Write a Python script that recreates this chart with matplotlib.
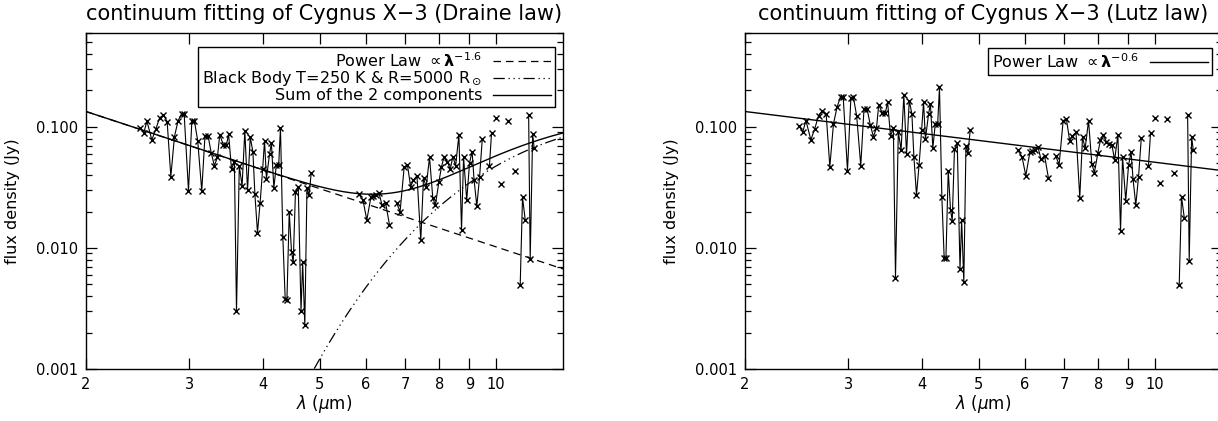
import numpy as np
import matplotlib
matplotlib.use('Agg')
import matplotlib.pyplot as plt
from matplotlib.ticker import FixedLocator, NullLocator, LogLocator, FuncFormatter

nan = np.nan

# wavelength of the spectrum points (micron); nan = break in the connecting line
wavelength = [2.47, 2.51, 2.54, 2.59, 2.63, 2.67, 2.71, 2.75, 2.79, 2.83,
              2.87, 2.91, 2.94, 2.99, 3.03, 3.06, 3.10, 3.15, 3.19, 3.23,
              3.27, 3.31, 3.35, 3.38, 3.43, 3.47, 3.50, 3.54, 3.58, 3.61,
              3.65, 3.69, 3.73, 3.77, 3.81, 3.85, 3.88, 3.92, 3.96, 4.00,
              4.03, 4.06, 4.11, 4.14, 4.18, 4.22, 4.26, 4.29, 4.33, 4.37,
              4.40, 4.44, 4.48, 4.51, 4.55, 4.60, 4.65, 4.68, 4.72, 4.76,
              4.80, 4.84, nan,
              5.83, 5.93, 6.02, 6.12, 6.18, 6.24, 6.31, 6.39, 6.48, 6.58, nan,
              6.77, 6.86, 6.97, 7.06, 7.15, 7.23, 7.33, 7.44, 7.52, 7.60,
              7.70, 7.80, 7.88, 7.99, 8.07, 8.15, 8.26, 8.35, 8.44, 8.53,
              8.64, 8.73, 8.80, 8.91, 9.01, 9.10, 9.17, 9.27, 9.37, 9.47, nan,
              9.74, 9.82, nan, 9.99, nan, 10.20, nan, 10.47, nan, 10.75, nan,
              10.99, 11.09, 11.21, nan,
              11.36, 11.43, 11.54, 11.61]

# dereddened flux density (Jy), Draine extinction law
flux_draine = [0.0988, 0.0898, 0.1114, 0.0781, 0.0956, 0.1187, 0.1256, 0.1107, 0.0389, 0.0832,
               0.1121, 0.1280, 0.1272, 0.0298, 0.1121, 0.1121, 0.0771, 0.0296, 0.0843, 0.0837,
               0.0606, 0.0479, 0.0561, 0.0859, 0.0710, 0.0710, 0.0870, 0.0447, 0.0517, 0.0030,
               0.0476, 0.0325, 0.0927, 0.0301, 0.0821, 0.0625, 0.0280, 0.0134, 0.0234, 0.0447,
               0.0771, 0.0374, 0.0598, 0.0733, 0.0313, 0.0482, 0.0482, 0.0988, 0.0122, 0.0038,
               0.0037, 0.0198, 0.0093, 0.0076, 0.0292, 0.0321, 0.0030, 0.0076, 0.0023, 0.0311,
               0.0274, 0.0419, nan,
               0.0280, 0.0249, 0.0170, 0.0266, 0.0269, 0.0272, 0.0287, 0.0227, 0.0237, 0.0155, nan,
               0.0234, 0.0200, 0.0464, 0.0485, 0.0321, 0.0365, 0.0394, 0.0116, 0.0376, 0.0321,
               0.0561, 0.0257, 0.0227, 0.0353, 0.0470, 0.0561, 0.0517, 0.0447, 0.0569, 0.0476,
               0.0859, 0.0141, 0.0561, 0.0249, 0.0507, 0.0625, 0.0365, 0.0222, 0.0384, 0.0791, nan,
               0.0476, 0.0886, nan, 0.1179, nan, 0.0336, nan, 0.1128, nan, 0.0433, nan,
               0.0049, 0.0262, 0.0170, nan,
               0.1256, 0.0081, 0.0875, 0.0666]

# dereddened flux density (Jy), Lutz extinction law
flux_lutz = [0.1019, 0.0915, 0.1128, 0.0781, 0.0969, 0.1241, 0.1365, 0.1280, 0.0470, 0.1059,
             0.1454, 0.1781, 0.1781, 0.0436, 0.1725, 0.1758, 0.1233, 0.0479, 0.1400, 0.1400,
             0.1039, 0.0832, 0.0975, 0.1520, 0.1297, 0.1314, 0.1599, 0.0843, 0.0975, 0.0057,
             0.0915, 0.0645, 0.1827, 0.0598, 0.1651, 0.1280, 0.0569, 0.0274, 0.0485, 0.0945,
             0.1599, 0.0791, 0.1280, 0.1549, 0.0671, 0.1059, 0.1059, 0.2128, 0.0266, 0.0082,
             0.0082, 0.0436, 0.0206, 0.0168, 0.0654, 0.0733, 0.0067, 0.0170, 0.0052, 0.0697,
             0.0614, 0.0945, nan,
             0.0645, 0.0569, 0.0396, 0.0625, 0.0633, 0.0645, 0.0688, 0.0540, 0.0576, 0.0377, nan,
             0.0576, 0.0485, 0.1128, 0.1157, 0.0771, 0.0843, 0.0903, 0.0261, 0.0821, 0.0666,
             0.1128, 0.0494, 0.0419, 0.0614, 0.0781, 0.0859, 0.0756, 0.0724, 0.0710, 0.0534,
             0.0859, 0.0137, 0.0561, 0.0245, 0.0485, 0.0618, 0.0369, 0.0227, 0.0389, 0.0806, nan,
             0.0476, 0.0886, nan, 0.1195, nan, 0.0342, nan, 0.1165, nan, 0.0419, nan,
             0.0049, 0.0266, 0.0178, nan,
             0.1257, 0.0078, 0.0832, 0.0645]

# fitted continuum parameters
pl_flux_2um = 0.134      # power law flux at 2 micron (Jy)
index_draine = -1.6
index_lutz = -0.6
bb_temp = 250.0          # K
bb_radius = 5000.0       # solar radii
distance_kpc = 10.3

x_ticks = [2, 3, 4, 5, 6, 7, 8, 9, 10]


def power_law(lam, index):
    return pl_flux_2um * (lam / 2.0) ** index


def black_body(lam):
    h, c, k = 6.626e-34, 2.998e8, 1.381e-23
    nu = c / (lam * 1e-6)
    bnu = 2 * h * nu ** 3 / c ** 2 / np.expm1(h * nu / (k * bb_temp))
    ratio = bb_radius * 6.957e8 / (distance_kpc * 3.086e19)
    return 1e26 * np.pi * bnu * ratio ** 2


def style_axes(ax, title):
    ax.set_xscale('log')
    ax.set_yscale('log')
    ax.set_xlim(2, 13)
    ax.set_ylim(0.001, 0.6)
    ax.xaxis.set_major_locator(FixedLocator(x_ticks))
    ax.xaxis.set_minor_locator(NullLocator())
    ax.xaxis.set_major_formatter(FuncFormatter(lambda v, p: '%d' % round(v)))
    ax.yaxis.set_major_locator(FixedLocator([0.001, 0.01, 0.1]))
    ax.yaxis.set_minor_locator(LogLocator(base=10, subs=np.arange(2, 10)))
    ax.yaxis.set_major_formatter(FuncFormatter(lambda v, p: '%.3f' % v))
    ax.yaxis.set_minor_formatter(FuncFormatter(lambda v, p: ''))
    ax.tick_params(which='both', direction='in', top=True, right=True,
                   labelsize=10.5, width=0.9, pad=6)
    ax.tick_params(which='major', length=8)
    ax.tick_params(which='minor', length=4)
    for s in ax.spines.values():
        s.set_linewidth(1.0)
    ax.set_title(title, fontsize=15, pad=9)
    ax.set_xlabel(r'$\lambda$ ($\mu$m)', fontsize=12)
    ax.set_ylabel('flux density (Jy)', fontsize=11.5)
    ax.xaxis.set_label_coords(0.5, -0.07)
    ax.yaxis.set_label_coords(-0.138, 0.5)


fig = plt.figure(figsize=(12.18, 4.21), dpi=100)
lam = np.geomspace(2, 13, 400)

# left panel: Draine law
ax1 = fig.add_axes([86 / 1218, 52 / 421, 477 / 1218, 336.3 / 421])
style_axes(ax1, 'continuum fitting of Cygnus X\u22123 (Draine law)')
ax1.plot(wavelength, flux_draine, color='black', lw=0.8, marker='x', ms=5, mew=1)
ax1.plot(lam, power_law(lam, index_draine), color='black', lw=0.9, ls=(0, (6, 4)),
         label=r'Power Law $\propto\mathbf{\lambda}^{-1.6}$')
ax1.plot(lam, black_body(lam), color='black', lw=0.9, ls=(0, (9, 3, 1, 3, 1, 3, 1, 3)),
         label=r'Black Body T=250 K & R=5000 R$_\odot$')
ax1.plot(lam, power_law(lam, index_draine) + black_body(lam), color='black', lw=1.0,
         label='Sum of the 2 components')
ax1.legend(loc='upper right', bbox_to_anchor=(0.983, 0.957), borderaxespad=0,
           markerfirst=False, fancybox=False, edgecolor='black', framealpha=1,
           fontsize=11.5, handlelength=3.6, handletextpad=0.7, labelspacing=0.0,
           borderpad=0.25).get_frame().set_linewidth(1.0)

# right panel: Lutz law
ax2 = fig.add_axes([745 / 1218, 52 / 421, 477 / 1218, 336.3 / 421])
style_axes(ax2, 'continuum fitting of Cygnus X\u22123 (Lutz law)')
ax2.plot(wavelength, flux_lutz, color='black', lw=0.8, marker='x', ms=5, mew=1)
ax2.plot(lam, power_law(lam, index_lutz), color='black', lw=1.0,
         label=r'Power Law $\propto\mathbf{\lambda}^{-0.6}$')
ax2.legend(loc='upper right', bbox_to_anchor=(0.979, 0.955), borderaxespad=0,
           markerfirst=False, fancybox=False, edgecolor='black', framealpha=1,
           fontsize=11.5, handlelength=3.6, handletextpad=0.7,
           borderpad=0.25).get_frame().set_linewidth(1.0)

fig.savefig('out.png', dpi=100)
